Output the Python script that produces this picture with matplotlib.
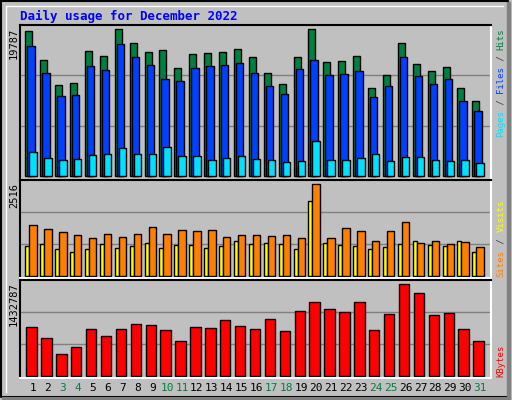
import matplotlib
matplotlib.use("Agg")
import matplotlib.pyplot as plt
import numpy as np

days = list(range(1, 32))
weekend = [3, 4, 10, 11, 17, 18, 24, 25, 31]
hits = [19518, 15615, 12250, 12519, 16826, 16153, 19787, 17903, 16692, 16961, 14538, 16422, 16557, 16692, 17095, 16018,
        13865, 12384, 16018, 19787, 15346, 15480, 16153, 11846, 13596, 17903, 15076, 14134, 14672, 11846, 10096]
files = [17499, 13865, 10769, 10903, 14807, 14269, 17769, 16018, 14942, 13057, 12788, 14538, 14807, 14942, 15211, 13865,
         12115, 11038, 14403, 15615, 13596, 13730, 14134, 10634, 12115, 16018, 13461, 12384, 13057, 10096, 8750]
pages = [3231, 2423, 2154, 2288, 2827, 2961, 3769, 2961, 2961, 3904, 2692, 2692, 2154, 2423, 2692, 2288,
         2154, 1885, 2019, 4711, 2154, 2154, 2423, 2961, 2019, 2558, 2558, 2154, 2019, 2154, 1750]
visits = [820, 875, 738, 656, 738, 875, 766, 820, 902, 766, 848, 848, 766, 820, 957, 875,
          902, 875, 738, 2051, 902, 848, 820, 738, 793, 875, 957, 848, 820, 957, 656]
sites = [1395, 1285, 1203, 1121, 1039, 1149, 1067, 1149, 1340, 1149, 1258, 1231, 1258, 1067, 1121, 1121,
         1094, 1121, 1039, 2516, 1039, 1313, 1231, 957, 1231, 1477, 902, 957, 875, 930, 793]
kbytes = [758205, 585648, 334656, 444465, 726831, 617022, 726831, 805266, 789579, 711144, 538587, 758205, 742518,
          868014, 773892, 726831, 883701, 695457, 1009197, 1150380, 1040571, 993510, 1150380, 711144, 962136,
          1432787, 1291563, 946449, 977823, 726831, 538587]

BG = "#C0C0C0"
W, H = 512, 400
fig = plt.figure(figsize=(5.12, 4.0), dpi=100, facecolor=BG)
MONO = "DejaVu Sans Mono"

def axpx(x0, y0, x1, y1):
    return fig.add_axes([x0 / W, 1 - y1 / H, (x1 - x0) / W, (y1 - y0) / H])

U = 1 / 14.9
x = np.arange(31) + 0.356
XL = (0, 471 * U)

def style(ax, top, below, maxpx):
    T = top
    ax.set_facecolor(BG)
    ax.set_xlim(*XL)
    ax.set_ylim(-below / maxpx * T, T)
    for v in (T / 3, 2 * T / 3):
        ax.axhline(v, color="#808080", lw=1, zorder=0)
    ax.set_xticks([]); ax.set_yticks([])
    for s in ("top", "left"):
        ax.spines[s].set_color("black"); ax.spines[s].set_linewidth(1.5)
    for s in ("bottom", "right"):
        ax.spines[s].set_color("white"); ax.spines[s].set_linewidth(1.5)

kw = dict(align="edge", edgecolor="black", linewidth=1)
ax1 = axpx(20, 25, 491, 180)
style(ax1, 19787 * 151 / 147, 4, 151)
ax1.bar(x, hits, 7 * U, color="#008040", **kw)
ax1.bar(x + 2 * U, files, 7.4 * U, color="#0040FF", **kw)
ax1.bar(x + 4 * U, pages, 7.4 * U, color="#00E0FF", **kw)

ax2 = axpx(20, 180, 491, 278)
style(ax2, 2516 * 96.3 / 92, 1.7, 96.3)
ax2.bar(x, visits, 4 * U, color="#FFFF00", **kw)
ax2.bar(x + 4 * U, sites, 7.4 * U, color="#FF8000", **kw)

ax3 = axpx(20, 280, 491, 378)
style(ax3, 1432787 * 95.7 / 91.3, 2.3, 95.7)
ax3.bar(x + 1 * U, kbytes, 10.4 * U, color="#FF0000", **kw)

for d, xi in zip(days, x):
    fig.text((20 + (xi + 0.52) / U) / W, 1 - 388 / H, str(d), ha="center", va="center",
             fontsize=8, family=MONO, color="#008040" if d in weekend else "black")

fig.text(20 / W, 1 - 16 / H, "Daily usage for December 2022", color="#0000FF", fontsize=9,
         fontweight="bold", family=MONO, va="center", ha="left")

for s, ytop in (("19787", 28), ("2516", 183), ("1432787", 282)):
    fig.text(14 / W, 1 - ytop / H, s, rotation=90, ha="center", va="top", fontsize=7.5, family=MONO)

def vlabel(parts, ybottom, step):
    pos = ybottom
    for txt, col in parts:
        fig.text(501 / W, 1 - pos / H, txt, rotation=90, ha="center", va="bottom",
                 fontsize=6.5, family=MONO, color=col)
        pos -= step * len(txt)

vlabel([("Pages", "#00E0FF"), (" / ", "#404040"), ("Files", "#0040FF"), (" / ", "#404040"), ("Hits", "#008040")], 137, 5.45)
vlabel([("Sites", "#FF8000"), (" / ", "#404040"), ("Visits", "#FFFF00")], 277, 5.6)
vlabel([("KBytes", "#FF0000")], 377, 5.8)

# frame
bg = fig.add_axes([0, 0, 1, 1], zorder=-1)
bg.set_xlim(0, W); bg.set_ylim(H, 0); bg.axis("off")
bg.plot([1, 1, 508, 508, 1], [1, 397, 397, 1, 1], color="black", lw=1.5)
bg.plot([509, 509], [4, 398], color="#808080", lw=3)
bg.plot([4, 509], [398.5, 398.5], color="#808080", lw=3)
bg.plot([6, 6, 503], [392, 6, 6], color="white", lw=1)

fig.savefig("out.png", dpi=100, facecolor=BG)
